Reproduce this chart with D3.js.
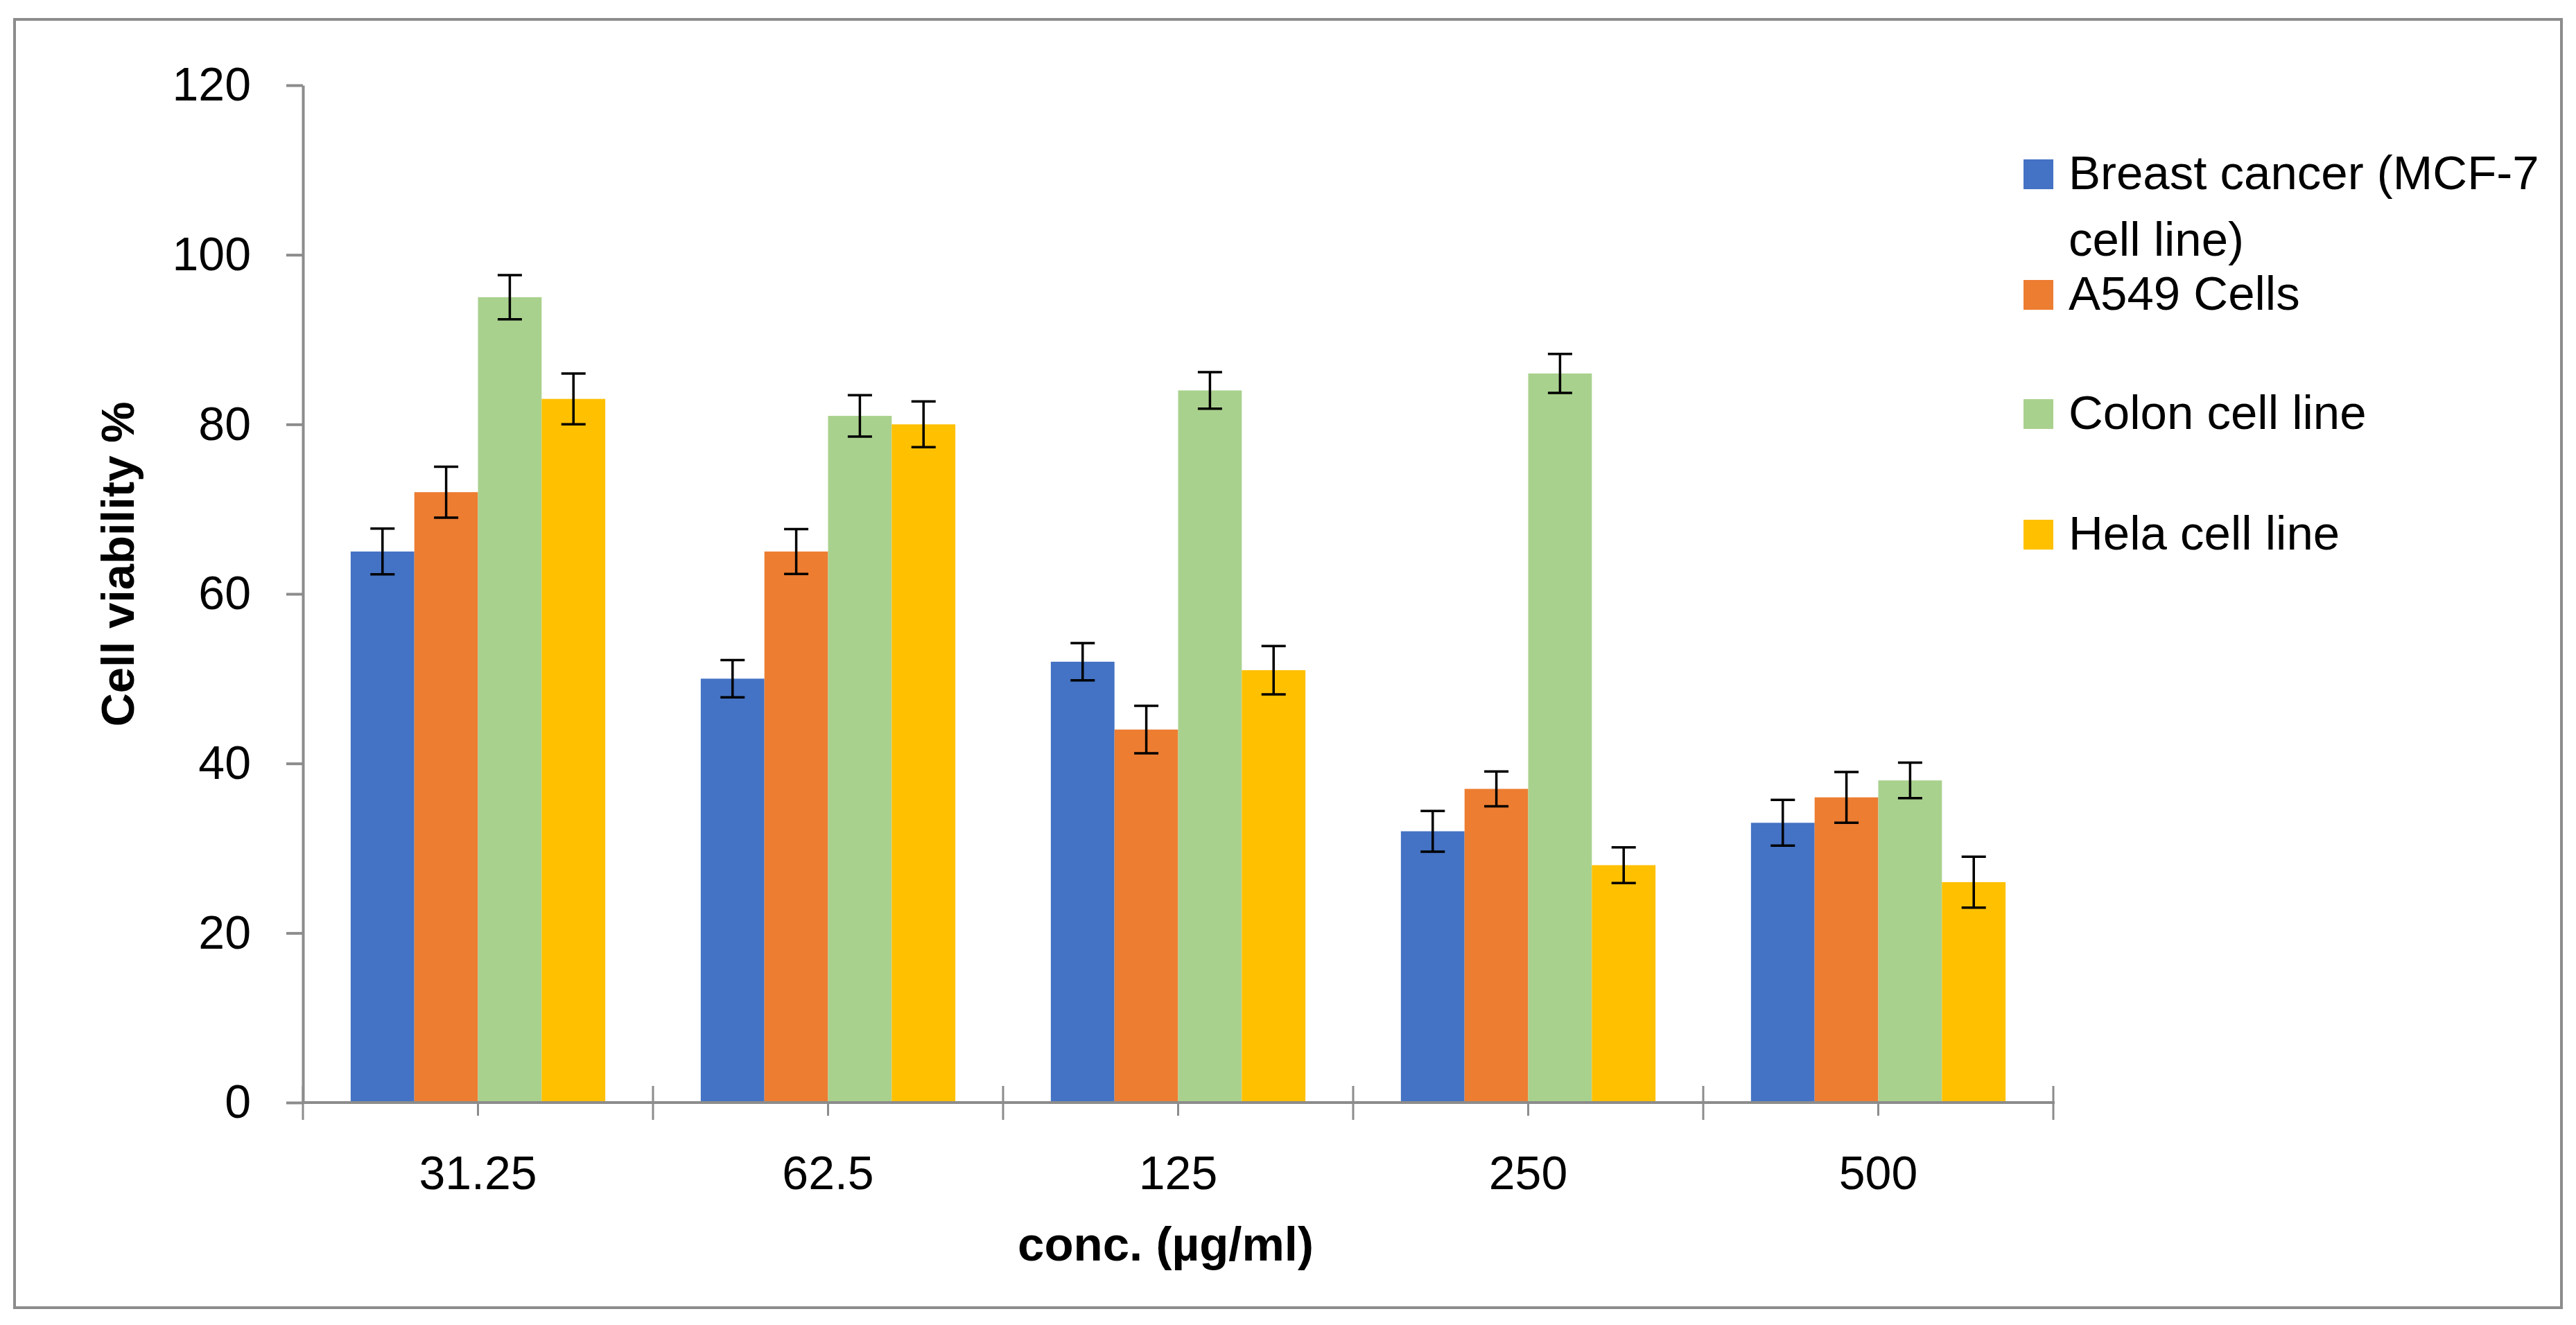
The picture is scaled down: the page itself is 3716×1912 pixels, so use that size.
<!DOCTYPE html>
<html>
<head>
<meta charset="utf-8">
<script src="https://cdn.jsdelivr.net/npm/d3@7"></script>
<style>
  html, body { margin: 0; padding: 0; background: #ffffff; }
  svg { display: block; }
  text { font-family: "Liberation Sans", Arial, sans-serif; fill: #000; }
</style>
</head>
<body>
<script>
// ---- data ----
const categories = ["31.25", "62.5", "125", "250", "500"];
const seriesNames = ["Breast cancer (MCF-7 cell line)", "A549 Cells", "Colon cell line", "Hela cell line"];
const legendLines = [["Breast cancer (MCF-7", "cell line)"], ["A549 Cells"], ["Colon cell line"], ["Hela cell line"]];
const breastValues = [65, 50, 52, 32, 33];
const breastErrors = [2.7, 2.2, 2.2, 2.4, 2.7];
const a549Values = [72, 65, 44, 37, 36];
const a549Errors = [3.0, 2.65, 2.8, 2.05, 3.0];
const colonValues = [95, 81, 84, 86, 38];
const colonErrors = [2.6, 2.45, 2.15, 2.3, 2.1];
const helaValues = [83, 80, 51, 28, 26];
const helaErrors = [3.0, 2.7, 2.85, 2.1, 3.0];
const yTicks = [0, 20, 40, 60, 80, 100, 120];
const seriesColors = ["#4472C4", "#ED7D31", "#A9D18E", "#FFC000"];
const xTitle = "conc. (µg/ml)";
const yTitle = "Cell viability %";

const seriesValues = [breastValues, a549Values, colonValues, helaValues];
const seriesErrors = [breastErrors, a549Errors, colonErrors, helaErrors];

// ---- layout ----
const W = 3716, H = 1912;
const plot = { left: 437, right: 2962, top: 123, bottom: 1591 };
const axisColor = "#8c8c8c";

const svg = d3.select("body").append("svg").attr("width", W).attr("height", H);
svg.append("rect").attr("width", W).attr("height", H).attr("fill", "#fff");

// outer border
svg.append("rect").attr("x", 21).attr("y", 28).attr("width", 3695 - 21).attr("height", 1887 - 28)
  .attr("fill", "none").attr("stroke", axisColor).attr("stroke-width", 4);

const x0 = d3.scaleBand().domain(categories).range([plot.left, plot.right]).paddingInner(0).paddingOuter(0);
const x1 = d3.scaleBand().domain(d3.range(seriesNames.length)).range([0, x0.bandwidth()]).paddingInner(0).paddingOuter(0.75);
const y = d3.scaleLinear().domain([0, 120]).range([plot.bottom, plot.top]);

// bars
const rows = [];
categories.forEach((c, ci) => {
  seriesNames.forEach((s, si) => {
    rows.push({ c, si, v: seriesValues[si][ci], e: seriesErrors[si][ci] });
  });
});

svg.append("g").selectAll("rect").data(rows).join("rect")
  .attr("x", d => x0(d.c) + x1(d.si))
  .attr("y", d => y(d.v))
  .attr("width", x1.bandwidth())
  .attr("height", d => y(0) - y(d.v))
  .attr("fill", d => seriesColors[d.si]);

// y axis
const yAxis = d3.axisLeft(y).tickValues(yTicks).tickSize(24).tickSizeOuter(0).tickPadding(51);
const gy = svg.append("g").attr("transform", `translate(${plot.left},0)`).call(yAxis);
gy.select(".domain").attr("stroke", axisColor).attr("stroke-width", 4);
gy.selectAll(".tick line").attr("stroke", axisColor).attr("stroke-width", 4);
gy.selectAll(".tick text").attr("font-size", 68).attr("font-family", "Liberation Sans, Arial, sans-serif").attr("fill", "#000");

// x axis line
svg.append("line").attr("x1", plot.left - 2).attr("x2", plot.right + 2).attr("y1", y(0)).attr("y2", y(0))
  .attr("stroke", axisColor).attr("stroke-width", 4);
// category boundary ticks
const bounds = categories.map(c => x0(c)).concat([x0(categories[categories.length - 1]) + x0.bandwidth()]);
svg.append("g").selectAll("line").data(bounds).join("line")
  .attr("x1", d => d).attr("x2", d => d)
  .attr("y1", y(0) - 24).attr("y2", y(0) + 25)
  .attr("stroke", axisColor).attr("stroke-width", 3);
// category centre ticks
svg.append("g").selectAll("line").data(categories).join("line")
  .attr("x1", c => x0(c) + x0.bandwidth() / 2).attr("x2", c => x0(c) + x0.bandwidth() / 2)
  .attr("y1", y(0)).attr("y2", y(0) + 19)
  .attr("stroke", axisColor).attr("stroke-width", 3);
// category labels
svg.append("g").selectAll("text").data(categories).join("text")
  .attr("x", c => x0(c) + x0.bandwidth() / 2)
  .attr("y", 1716)
  .attr("text-anchor", "middle")
  .attr("font-size", 68)
  .text(c => c);

// error bars
const capW = 35;
const eb = svg.append("g").attr("stroke", "#000").attr("stroke-width", 3.5);
rows.forEach(d => {
  const cx = x0(d.c) + x1(d.si) + x1.bandwidth() / 2;
  const yt = y(d.v + d.e), yb = y(d.v - d.e);
  eb.append("line").attr("x1", cx).attr("x2", cx).attr("y1", yt).attr("y2", yb);
  eb.append("line").attr("x1", cx - capW / 2).attr("x2", cx + capW / 2).attr("y1", yt).attr("y2", yt);
  eb.append("line").attr("x1", cx - capW / 2).attr("x2", cx + capW / 2).attr("y1", yb).attr("y2", yb);
});

// axis titles
svg.append("text")
  .attr("x", (plot.left + plot.right) / 2 - 18)
  .attr("y", 1819)
  .attr("text-anchor", "middle")
  .attr("font-size", 69)
  .attr("font-weight", "bold")
  .text(xTitle);

svg.append("text")
  .attr("transform", `translate(193,814) rotate(-90)`)
  .attr("text-anchor", "middle")
  .attr("font-size", 67)
  .attr("font-weight", "bold")
  .text(yTitle);

// legend
const legendTops = [230, 404, 576, 750];
const lg = svg.append("g");
seriesNames.forEach((s, i) => {
  lg.append("rect").attr("x", 2919).attr("y", legendTops[i]).attr("width", 43).attr("height", 43)
    .attr("fill", seriesColors[i]);
  const t = lg.append("text").attr("x", 2984).attr("y", legendTops[i] + 43).attr("font-size", 69);
  legendLines[i].forEach((line, li) => {
    t.append("tspan").attr("x", 2984).attr("dy", li === 0 ? 0 : 96).text(line);
  });
});
</script>
</body>
</html>
